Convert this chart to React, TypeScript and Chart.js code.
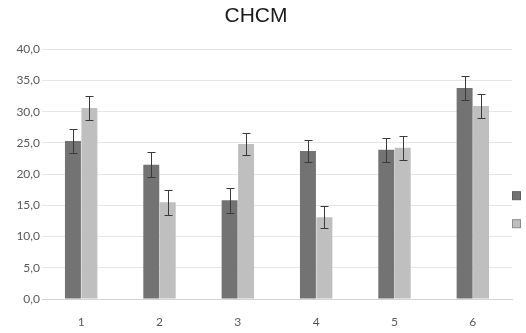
import React, { useEffect, useRef } from "react";
import { Chart, registerables } from "chart.js";

Chart.register(...registerables);

const categories = ["1", "2", "3", "4", "5", "6"];
const seriesNames = ["Grupo 1", "Grupo 2"];
const darkValues = [25.3, 21.5, 15.8, 23.7, 23.9, 33.8];
const darkErrors = [1.9, 2.0, 2.0, 1.8, 1.9, 1.9];
const lightValues = [30.6, 15.5, 24.8, 13.1, 24.2, 30.9];
const lightErrors = [1.9, 2.0, 1.8, 1.8, 1.9, 1.9];
const yTicks = [0, 5, 10, 15, 20, 25, 30, 35, 40];

const errorsByDataset = [darkErrors, lightErrors];

const errorBarPlugin = {
  id: "errorBars",
  afterDatasetsDraw(chart: any) {
    const ctx = chart.ctx;
    const yScale = chart.scales.y;
    ctx.save();
    ctx.strokeStyle = "#3a3a3a";
    ctx.lineWidth = 1;
    chart.data.datasets.forEach((ds: any, i: number) => {
      const meta = chart.getDatasetMeta(i);
      const errs = errorsByDataset[i];
      meta.data.forEach((bar: any, j: number) => {
        const v = ds.data[j];
        const e = errs[j];
        const x = Math.round(bar.x) + 0.5;
        const yTop = Math.round(yScale.getPixelForValue(v + e)) + 0.5;
        const yBot = Math.round(yScale.getPixelForValue(v - e)) + 0.5;
        ctx.beginPath();
        ctx.moveTo(x, yTop);
        ctx.lineTo(x, yBot);
        ctx.moveTo(x - 4, yTop);
        ctx.lineTo(x + 4, yTop);
        ctx.moveTo(x - 4, yBot);
        ctx.lineTo(x + 4, yBot);
        ctx.stroke();
      });
    });
    ctx.restore();
  },
};

const sideLegendPlugin = {
  id: "sideLegend",
  afterDraw(chart: any) {
    const ctx = chart.ctx;
    const area = chart.chartArea;
    const offsets = [142, 170];
    ctx.save();
    chart.data.datasets.forEach((ds: any, i: number) => {
      const x = area.right + 0.5;
      const y = area.top + offsets[i] + 0.5;
      ctx.fillStyle = ds.backgroundColor;
      ctx.fillRect(x, y, 8, 8);
      ctx.strokeStyle = i === 0 ? "#5e5e5e" : "#8c8c8c";
      ctx.lineWidth = 1;
      ctx.strokeRect(x, y, 8, 8);
      ctx.fillStyle = "#595959";
      ctx.font = "12px Lato";
      ctx.textBaseline = "middle";
      ctx.fillText(ds.label, x + 13, y + 4);
    });
    ctx.restore();
  },
};

export default function App() {
  const canvasRef = useRef<HTMLCanvasElement | null>(null);

  useEffect(() => {
    if (!canvasRef.current) return;
    const chart = new Chart(canvasRef.current, {
      type: "bar",
      data: {
        labels: categories,
        datasets: [
          {
            label: seriesNames[0],
            data: darkValues,
            backgroundColor: "#737373",
            categoryPercentage: 0.42,
            barPercentage: 0.97,
          },
          {
            label: seriesNames[1],
            data: lightValues,
            backgroundColor: "#bfbfbf",
            categoryPercentage: 0.42,
            barPercentage: 0.97,
          },
        ],
      },
      options: {
        responsive: false,
        animation: false,
        layout: { padding: { top: 0, left: 0, right: 14, bottom: 0 } },
        plugins: {
          legend: { display: false },
          tooltip: { enabled: false },
          title: {
            display: true,
            text: "CHCM",
            color: "#1a1a1a",
            font: { family: "Liberation Sans", size: 21, weight: "normal" },
            padding: { top: 4, bottom: 20 },
          },
        },
        scales: {
          x: {
            grid: { display: false, drawTicks: false },
            border: { display: true, color: "#d4d4d4" },
            ticks: {
              color: "#595959",
              font: { family: "Lato", size: 12 },
              padding: 16,
            },
            afterFit: (s: any) => {
              s.height = 34;
            },
          },
          y: {
            min: 0,
            max: 40,
            afterBuildTicks: (s: any) => {
              s.ticks = yTicks.map((v) => ({ value: v }));
            },
            grid: { color: "#e6e6e6", drawTicks: false },
            border: { display: false },
            ticks: {
              color: "#595959",
              font: { family: "Lato", size: 12 },
              padding: 2,
              callback: (v: any) => Number(v).toFixed(1).replace(".", ","),
            },
            afterFit: (s: any) => {
              s.width = 42;
            },
          },
        },
      },
      plugins: [errorBarPlugin, sideLegendPlugin],
    });
    return () => chart.destroy();
  }, []);

  return (
    <div style={{ position: "fixed", left: 0, top: 0, width: 526, height: 333, overflow: "hidden", background: "#fff" }}>
      <canvas ref={canvasRef} width={526} height={333} style={{ display: "block" }} />
    </div>
  );
}
